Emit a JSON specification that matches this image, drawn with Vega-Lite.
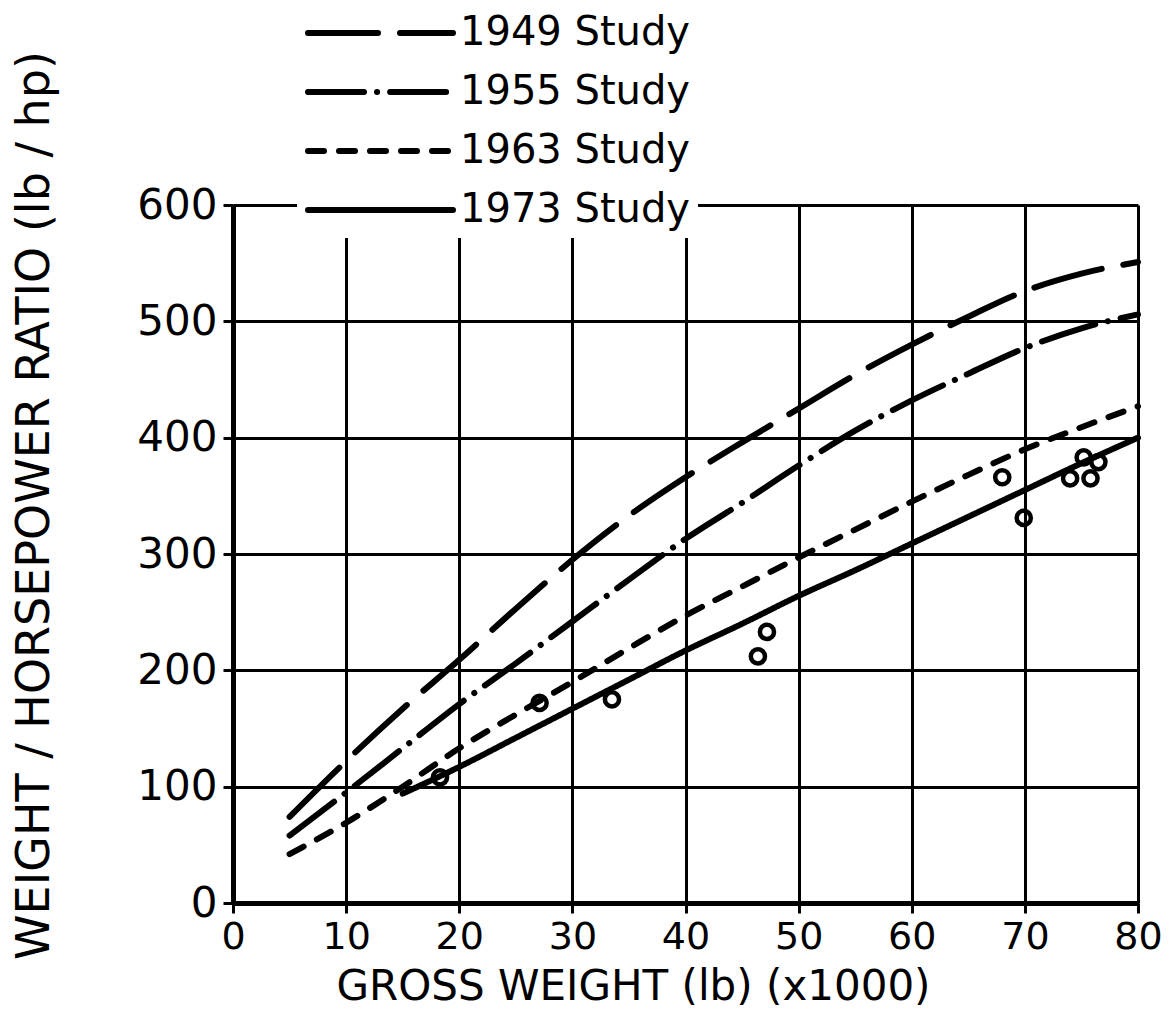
{
  "$schema": "https://vega.github.io/schema/vega-lite/v6.json",
  "width": 905,
  "height": 698,
  "autosize": {"type": "none"},
  "padding": {"left": 233, "top": 205, "right": 37, "bottom": 106},
  "background": "white",
  "config": {"view": {"stroke": null}, "font": "DejaVu Sans"},
  "datasets": {
    "curves": [
      {"study": "1949 Study", "x": 5, "y": 74}, {"study": "1949 Study", "x": 10, "y": 122}, {"study": "1949 Study", "x": 15, "y": 167}, {"study": "1949 Study", "x": 20, "y": 209}, {"study": "1949 Study", "x": 25, "y": 253}, {"study": "1949 Study", "x": 30, "y": 295}, {"study": "1949 Study", "x": 35, "y": 333}, {"study": "1949 Study", "x": 40, "y": 366}, {"study": "1949 Study", "x": 45, "y": 396}, {"study": "1949 Study", "x": 50, "y": 425}, {"study": "1949 Study", "x": 55, "y": 454}, {"study": "1949 Study", "x": 60, "y": 480}, {"study": "1949 Study", "x": 65, "y": 504}, {"study": "1949 Study", "x": 70, "y": 526}, {"study": "1949 Study", "x": 75, "y": 541}, {"study": "1949 Study", "x": 80, "y": 551},
      {"study": "1955 Study", "x": 5, "y": 58}, {"study": "1955 Study", "x": 10, "y": 95}, {"study": "1955 Study", "x": 15, "y": 133}, {"study": "1955 Study", "x": 20, "y": 171}, {"study": "1955 Study", "x": 25, "y": 206}, {"study": "1955 Study", "x": 30, "y": 242}, {"study": "1955 Study", "x": 35, "y": 278}, {"study": "1955 Study", "x": 40, "y": 313}, {"study": "1955 Study", "x": 45, "y": 344}, {"study": "1955 Study", "x": 50, "y": 376}, {"study": "1955 Study", "x": 55, "y": 406}, {"study": "1955 Study", "x": 60, "y": 432}, {"study": "1955 Study", "x": 65, "y": 455}, {"study": "1955 Study", "x": 70, "y": 477}, {"study": "1955 Study", "x": 75, "y": 494}, {"study": "1955 Study", "x": 80, "y": 506},
      {"study": "1963 Study", "x": 5, "y": 42}, {"study": "1963 Study", "x": 10, "y": 69}, {"study": "1963 Study", "x": 15, "y": 100}, {"study": "1963 Study", "x": 20, "y": 133}, {"study": "1963 Study", "x": 25, "y": 162}, {"study": "1963 Study", "x": 30, "y": 190}, {"study": "1963 Study", "x": 35, "y": 219}, {"study": "1963 Study", "x": 40, "y": 247}, {"study": "1963 Study", "x": 45, "y": 272}, {"study": "1963 Study", "x": 50, "y": 297}, {"study": "1963 Study", "x": 55, "y": 321}, {"study": "1963 Study", "x": 60, "y": 345}, {"study": "1963 Study", "x": 65, "y": 368}, {"study": "1963 Study", "x": 70, "y": 390}, {"study": "1963 Study", "x": 75, "y": 409}, {"study": "1963 Study", "x": 80, "y": 427},
      {"study": "1973 Study", "x": 15, "y": 94}, {"study": "1973 Study", "x": 20, "y": 117}, {"study": "1973 Study", "x": 25, "y": 142}, {"study": "1973 Study", "x": 30, "y": 167}, {"study": "1973 Study", "x": 35, "y": 192}, {"study": "1973 Study", "x": 40, "y": 217}, {"study": "1973 Study", "x": 45, "y": 240}, {"study": "1973 Study", "x": 50, "y": 264}, {"study": "1973 Study", "x": 55, "y": 286}, {"study": "1973 Study", "x": 60, "y": 309}, {"study": "1973 Study", "x": 65, "y": 332}, {"study": "1973 Study", "x": 70, "y": 355}, {"study": "1973 Study", "x": 75, "y": 378}, {"study": "1973 Study", "x": 80, "y": 400}
    ],
    "points": [
      {"x": 18.3, "y": 108}, {"x": 27.1, "y": 172}, {"x": 33.5, "y": 175}, {"x": 46.4, "y": 212}, {"x": 47.2, "y": 233},
      {"x": 68, "y": 366}, {"x": 69.9, "y": 331}, {"x": 74.0, "y": 365}, {"x": 75.2, "y": 383}, {"x": 75.8, "y": 365}, {"x": 76.5, "y": 379}
    ]
  },
  "layer": [
    {
      "data": {"name": "curves"},
      "mark": {"type": "line", "interpolate": "monotone", "color": "black", "strokeWidth": 6, "strokeCap": "round"},
      "encoding": {
        "x": {
          "field": "x", "type": "quantitative",
          "scale": {"domain": [0, 80], "nice": false},
          "axis": {
            "values": [0, 10, 20, 30, 40, 50, 60, 70, 80],
            "grid": true, "gridColor": "black", "gridWidth": 3, "gridOpacity": 1,
            "domainColor": "black", "domainWidth": 5,
            "tickColor": "black", "tickWidth": 3, "tickSize": 10,
            "labelFont": "DejaVu Sans", "labelFontSize": 38, "labelColor": "black", "labelPadding": 5, "labelFlush": false,
            "title": "GROSS  WEIGHT  (lb)  (x1000)",
            "titleFont": "DejaVu Sans", "titleFontSize": 42, "titleFontWeight": "normal", "titleColor": "black",
            "titleX": 400, "titleY": 96, "titleAlign": "center", "titleBaseline": "alphabetic"
          }
        },
        "y": {
          "field": "y", "type": "quantitative",
          "scale": {"domain": [0, 600], "nice": false},
          "axis": {
            "values": [0, 100, 200, 300, 400, 500, 600],
            "grid": true, "gridColor": "black", "gridWidth": 3, "gridOpacity": 1,
            "domainColor": "black", "domainWidth": 5,
            "tickColor": "black", "tickWidth": 3, "tickSize": 10,
            "labelFont": "DejaVu Sans", "labelFontSize": 42, "labelColor": "black", "labelPadding": 6, "labelFlush": false,
            "title": "WEIGHT / HORSEPOWER  RATIO  (lb / hp)",
            "titleFont": "DejaVu Sans", "titleFontSize": 46, "titleFontWeight": "normal", "titleColor": "black",
            "titleAngle": -90, "titleX": -199, "titleY": 300, "titleAlign": "center", "titleBaseline": "middle"
          }
        },
        "strokeDash": {
          "field": "study", "type": "nominal",
          "scale": {
            "domain": ["1949 Study", "1955 Study", "1963 Study", "1973 Study"],
            "range": [[70, 22], [56, 13, 0.1, 13], [16, 15], [1, 0]]
          },
          "legend": {
            "orient": "none", "legendX": 64, "legendY": -200,
            "title": null, "fillColor": "white", "padding": 8,
            "symbolType": "stroke", "symbolSize": 21025, "symbolStrokeWidth": 6, "symbolStrokeColor": "black",
            "clipHeight": 40, "rowPadding": 19,
            "labelFont": "DejaVu Sans", "labelFontSize": 40, "labelColor": "black", "labelOffset": 4, "labelLimit": 400,
            "encode": {
              "symbols": {
                "update": {
                  "strokeCap": {"value": "round"}
                }
              }
            }
          }
        }
      }
    },
    {
      "data": {"name": "points"},
      "mark": {"type": "point", "shape": "circle", "filled": false, "color": "black", "strokeWidth": 4.5, "size": 200, "opacity": 1},
      "encoding": {
        "x": {"field": "x", "type": "quantitative"},
        "y": {"field": "y", "type": "quantitative"}
      }
    }
  ]
}
